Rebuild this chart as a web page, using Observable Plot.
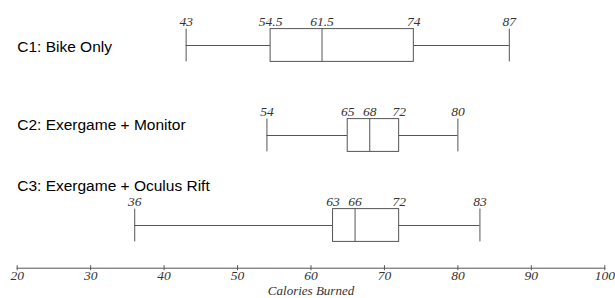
<!DOCTYPE html>
<html>
<head>
<meta charset="utf-8">
<script src="https://cdn.jsdelivr.net/npm/d3@7"></script>
<script src="https://cdn.jsdelivr.net/npm/@observablehq/plot@0.6"></script>
<style>
  html, body { margin: 0; padding: 0; background: #fff; }
</style>
</head>
<body>
<div id="chart"></div>
<script>
const categories = ["C1: Bike Only", "C2: Exergame + Monitor", "C3: Exergame + Oculus Rift"];
const mins    = [43, 54, 36];
const q1s     = [54.5, 65, 63];
const medians = [61.5, 68, 66];
const q3s     = [74, 72, 72];
const maxs    = [87, 80, 83];
const xTicks  = [20, 30, 40, 50, 60, 70, 80, 90, 100];
const xLabel  = "Calories Burned";

const rows = categories.map((c, i) => ({cat: c, min: mins[i], q1: q1s[i], median: medians[i], q3: q3s[i], max: maxs[i]}));
const valueLabels = rows.flatMap(r => ["min", "q1", "median", "q3", "max"].map(k => ({cat: r.cat, v: r[k]})));

const lineColor = "#555";
const inset = 28.6;
const catLabelDy = [2, -10, -39];

const chart = Plot.plot({
  width: 615,
  height: 298,
  marginLeft: 16.7,
  marginRight: 10.7,
  marginTop: 0,
  marginBottom: 30.3,
  style: {fontFamily: "Liberation Serif", fontSize: "13.5px", fontStyle: "italic", color: "#333", background: "#fff"},
  x: {domain: [20, 100], axis: null},
  y: {type: "band", domain: categories, range: [-0.4, 270.1], padding: 0, axis: null},
  marks: [
    Plot.frame({anchor: "bottom", stroke: lineColor}),
    Plot.axisX({ticks: xTicks, tickSize: 5, dy: -2.5, tickPadding: 0, stroke: lineColor, fill: "#333", fontStyle: "italic", fontFamily: "Liberation Serif", fontSize: 13.5}),
    Plot.text([xLabel], {frameAnchor: "bottom", lineAnchor: "middle", dy: 23, text: d => d, fontSize: 13, fontStyle: "italic", fontFamily: "Liberation Serif", fill: "#333"}),
    Plot.ruleY(rows, {y: "cat", x1: "min", x2: "q1", stroke: lineColor}),
    Plot.ruleY(rows, {y: "cat", x1: "q3", x2: "max", stroke: lineColor}),
    Plot.tickX(rows, {x: "min", y: "cat", insetTop: inset, insetBottom: inset, stroke: lineColor}),
    Plot.tickX(rows, {x: "max", y: "cat", insetTop: inset, insetBottom: inset, stroke: lineColor}),
    Plot.barX(rows, {x1: "q1", x2: "q3", y: "cat", insetTop: inset, insetBottom: inset, fill: "white", stroke: lineColor}),
    Plot.tickX(rows, {x: "median", y: "cat", insetTop: inset, insetBottom: inset, stroke: lineColor}),
    Plot.text(valueLabels, {x: "v", y: "cat", text: d => String(d.v), dy: -24, fontSize: 13.5, fontStyle: "italic", fontFamily: "Liberation Serif", fill: "#333"}),
    ...categories.map((c, i) => Plot.text([c], {y: d => d, frameAnchor: "left", textAnchor: "start", dy: catLabelDy[i], text: d => d, fontSize: 15.5, fontStyle: "normal", fontFamily: "Liberation Sans", fill: "#000"}))
  ]
});
document.getElementById("chart").appendChild(chart);
</script>
</body>
</html>
